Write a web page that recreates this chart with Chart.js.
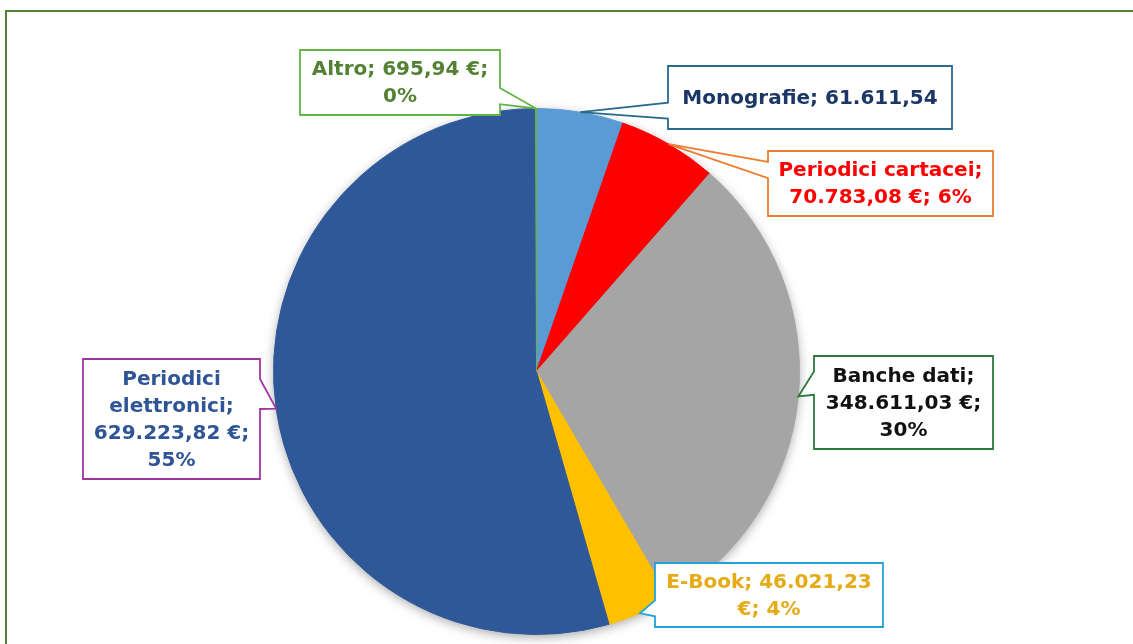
<!DOCTYPE html>
<html>
<head>
<meta charset="utf-8">
<script src="https://cdn.jsdelivr.net/npm/chart.js@4/dist/chart.umd.min.js"></script>
<style>
  html, body { margin: 0; padding: 0; background: #ffffff; }
  #wrap { width: 1133px; height: 644px; position: relative; }
</style>
</head>
<body>
<div id="wrap"><canvas id="c" width="1133" height="644"></canvas></div>
<script>
// ---- data ----
const categories = ["Monografie", "Periodici cartacei", "Banche dati", "E-Book", "Periodici elettronici", "Altro"];
const values = [61611.54, 70783.08, 348611.03, 46021.23, 629223.82, 695.94];
const sliceColors = ["#5B9BD5", "#FF0000", "#A5A5A5", "#FFC000", "#2E5898", "#70AD47"];
const labelLines = [
  ["Monografie; 61.611,54"],
  ["Periodici cartacei;", "70.783,08 €; 6%"],
  ["Banche dati;", "348.611,03 €;", "30%"],
  ["E-Book; 46.021,23", "€; 4%"],
  ["Periodici", "elettronici;", "629.223,82 €;", "55%"],
  ["Altro; 695,94 €;", "0%"]
];
const labelTextColors = ["#1C3766", "#FF0000", "#111111", "#E6AA14", "#2F5597", "#548235"];
const labelBorderColors = ["#2A6A8E", "#ED7D31", "#2B7A3B", "#1FA3DA", "#A1359F", "#62B446"];
// callout box placement (layout)
const labelBoxes = [
  [668, 66, 284, 63],
  [768, 151, 225, 65],
  [814, 356, 179, 93],
  [655, 563, 228, 64],
  [83, 359, 177, 120],
  [300, 50, 200, 65]
];

const shadowPlugin = {
  id: 'pieShadow',
  beforeDatasetsDraw(chart) {
    const arc = chart.getDatasetMeta(0).data[0];
    if (!arc) return;
    const ctx = chart.ctx;
    ctx.save();
    ctx.shadowColor = 'rgba(0,0,0,0.38)';
    ctx.shadowBlur = 12;
    ctx.shadowOffsetX = 0;
    ctx.shadowOffsetY = 3;
    ctx.fillStyle = '#808080';
    ctx.beginPath();
    ctx.arc(arc.x, arc.y, arc.outerRadius - 1, 0, Math.PI * 2);
    ctx.fill();
    ctx.restore();
  }
};

const calloutPlugin = {
  id: 'callouts',
  afterDatasetsDraw(chart) {
    const ctx = chart.ctx;
    const meta = chart.getDatasetMeta(0);
    ctx.save();
    meta.data.forEach((arc, i) => {
      const mid = (arc.startAngle + arc.endAngle) / 2;
      const tx = arc.x + Math.cos(mid) * arc.outerRadius;
      const ty = arc.y + Math.sin(mid) * arc.outerRadius;
      const [x, y, w, h] = labelBoxes[i];
      const cx = x + w / 2, cy = y + h / 2;
      const dx = tx - cx, dy = ty - cy;
      // rectangle corners clockwise starting top-left
      const pts = [];
      pts.push([x, y]);
      if (Math.abs(dy) * w >= Math.abs(dx) * h && dy < 0) {
        const a = dx > 0 ? [x + 7 * w / 12, x + 10 * w / 12] : [x + 2 * w / 12, x + 5 * w / 12];
        pts.push([a[0], y], [tx, ty], [a[1], y]);
      }
      pts.push([x + w, y]);
      if (Math.abs(dx) * h > Math.abs(dy) * w && dx > 0) {
        const b = dy > 0 ? [y + 7 * h / 12, y + 10 * h / 12] : [y + 2 * h / 12, y + 5 * h / 12];
        pts.push([x + w, b[0]], [tx, ty], [x + w, b[1]]);
      }
      pts.push([x + w, y + h]);
      if (Math.abs(dy) * w >= Math.abs(dx) * h && dy > 0) {
        const a = dx > 0 ? [x + 7 * w / 12, x + 10 * w / 12] : [x + 2 * w / 12, x + 5 * w / 12];
        pts.push([a[1], y + h], [tx, ty], [a[0], y + h]);
      }
      pts.push([x, y + h]);
      if (Math.abs(dx) * h > Math.abs(dy) * w && dx < 0) {
        const b = dy > 0 ? [y + 7 * h / 12, y + 10 * h / 12] : [y + 2 * h / 12, y + 5 * h / 12];
        pts.push([x, b[1]], [tx, ty], [x, b[0]]);
      }
      ctx.beginPath();
      pts.forEach((p, k) => k === 0 ? ctx.moveTo(p[0], p[1]) : ctx.lineTo(p[0], p[1]));
      ctx.closePath();
      ctx.fillStyle = '#ffffff';
      ctx.fill();
      ctx.lineWidth = 1.8;
      ctx.lineJoin = 'miter';
      ctx.strokeStyle = labelBorderColors[i];
      ctx.stroke();
      // text
      const lines = labelLines[i];
      const lh = 27;
      ctx.font = 'bold 20px "DejaVu Sans", sans-serif';
      ctx.fillStyle = labelTextColors[i];
      ctx.textAlign = 'center';
      ctx.textBaseline = 'middle';
      const startY = cy - (lines.length - 1) * lh / 2 + 1;
      lines.forEach((t, k) => ctx.fillText(t, cx, startY + k * lh));
    });
    ctx.restore();
  },
  afterDraw(chart) {
    const ctx = chart.ctx;
    ctx.save();
    ctx.strokeStyle = '#548235';
    ctx.lineWidth = 2;
    ctx.strokeRect(6, 11, 1300, 800);
    ctx.restore();
  }
};

new Chart(document.getElementById('c'), {
  type: 'pie',
  data: {
    labels: categories,
    datasets: [{
      data: values,
      backgroundColor: sliceColors,
      borderColor: sliceColors,
      borderWidth: 1
    }]
  },
  options: {
    responsive: false,
    animation: false,
    rotation: 0,
    layout: { padding: { left: 273, right: 333, top: 108, bottom: 9 } },
    plugins: { legend: { display: false }, tooltip: { enabled: false } }
  },
  plugins: [shadowPlugin, calloutPlugin]
});
</script>
</body>
</html>
